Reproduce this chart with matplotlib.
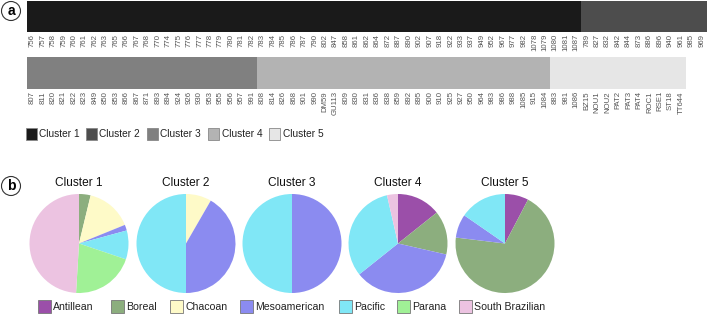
import matplotlib
matplotlib.use("Agg")
import matplotlib.pyplot as plt
from matplotlib.patches import Rectangle

plt.rcParams['font.family'] = ['Liberation Sans', 'DejaVu Sans']

# ---------------- data ----------------
row1_labels = ["756", "757", "758", "759", "760", "761", "762", "763", "765", "766", "767", "768",
               "770", "774", "775", "776", "777", "778", "779", "780", "781", "782", "783", "784",
               "785", "786", "787", "790", "802", "847", "858", "861", "862", "864", "872", "887",
               "890", "902", "907", "918", "922", "933", "937", "949", "952", "967", "977", "982",
               "1078", "1079", "1080", "1081", "1087",
               "789", "827", "832", "842", "844", "873", "886", "896", "940", "961", "985", "969"]
row1_clusters = [1] * 53 + [2] * 12

row2_labels = ["807", "811", "820", "821", "822", "823", "849", "850", "853", "866", "867", "871",
               "893", "894", "924", "926", "930", "953", "955", "956", "957", "991",
               "808", "814", "826", "868", "901", "990", "DM59", "GU113", "809", "830", "831",
               "836", "838", "859", "892", "895", "900", "910", "925", "927", "950", "964", "983",
               "986", "988", "1085", "915", "1084",
               "883", "981", "1086", "BZ15", "NOU1", "NOU2", "PAT2", "PAT3", "PAT4", "ROC1",
               "RSE1", "ST18", "TT644"]
row2_clusters = [3] * 22 + [4] * 28 + [5] * 13

cluster_names = ["Cluster 1", "Cluster 2", "Cluster 3", "Cluster 4", "Cluster 5"]
cluster_colors = ["#1a1a1a", "#4d4d4d", "#808080", "#b3b3b3", "#e6e6e6"]

regions = ["Antillean", "Boreal", "Chacoan", "Mesoamerican", "Pacific", "Parana", "South Brazilian"]
region_colors = ["#9b4fa9", "#8cae7e", "#fefac8", "#8b8bf0", "#80e7f6", "#a0f196", "#ecc3e1"]

# counts per cluster in region order
pie_counts = {
    "Cluster 1": [0, 2, 8, 1, 5, 11, 26],
    "Cluster 2": [0, 0, 1, 5, 6, 0, 0],
    "Cluster 3": [0, 0, 0, 11, 11, 0, 0],
    "Cluster 4": [4, 4, 0, 10, 9, 0, 1],
    "Cluster 5": [1, 9, 0, 1, 2, 0, 0],
}

# ---------------- figure ----------------
W, H = 709, 314
fig = plt.figure(figsize=(W / 100, H / 100), dpi=100)


def fr(x, y, w, h):
    """pixel box (top-left origin) -> figure fraction rect"""
    return [x / W, 1 - (y + h) / H, w / W, h / H]


unit = 680 / 65.0


def bar_row(labels, clusters, y0, h):
    ax = fig.add_axes(fr(27, y0, unit * len(labels), h))
    xs = list(range(len(labels)))
    ax.bar(xs, [1] * len(xs), width=1.0, bottom=0,
           color=[cluster_colors[c - 1] for c in clusters], linewidth=0)
    ax.set_xlim(-0.5, len(labels) - 0.5)
    ax.set_ylim(0, 1)
    ax.set_xticks(xs)
    ax.set_xticklabels(labels, rotation=90, fontsize=5.6, color="#555555")
    ax.tick_params(axis="x", length=0, pad=1.5)
    ax.set_yticks([])
    for s in ax.spines.values():
        s.set_visible(False)
    return ax


bar_row(row1_labels, row1_clusters, 1, 31)
bar_row(row2_labels, row2_clusters, 57, 32)

# cluster legend
leg1 = [(26, 39), (86, 99), (147, 160), (208, 222), (269, 283)]
for (sx, tx), name, col in zip(leg1, cluster_names, cluster_colors):
    fig.add_artist(Rectangle(((sx) / W, 1 - 140 / H), 11 / W, 12 / H,
                             transform=fig.transFigure, facecolor=col,
                             edgecolor="#888888", linewidth=0.6))
    fig.text(tx / W, 1 - 134 / H, name, fontsize=7.3, va="center", ha="left", color="#222222")

# pies
centers = [79, 186, 292, 398, 505]
cy = 243.5
r = 49.5
for cx, name in zip(centers, cluster_names):
    ax = fig.add_axes(fr(cx - r, cy - r, 2 * r, 2 * r))
    vals = pie_counts[name]
    ax.pie(vals, colors=region_colors, startangle=90, counterclock=False,
           radius=1, wedgeprops=dict(linewidth=0))
    ax.set_xlim(-1, 1)
    ax.set_ylim(-1, 1)
    ax.set_aspect("equal")
    ax.axis("off")
    ax.set_title(name, fontsize=8.6, pad=6.0, color="#111111")

# region legend
leg2 = [(38, 53), (111, 126), (170, 185), (240, 255), (339, 354), (397, 412), (459, 474)]
for (sx, tx), name, col in zip(leg2, regions, region_colors):
    fig.add_artist(Rectangle((sx / W, 1 - 313 / H), 13 / W, 13 / H,
                             transform=fig.transFigure, facecolor=col,
                             edgecolor="#777777", linewidth=0.6))
    fig.text(tx / W, 1 - 306.5 / H, name, fontsize=7.6, va="center", ha="left", color="#222222")

# panel labels
for lab, y in [("a", 11), ("b", 186)]:
    fig.text(11 / W, 1 - y / H, lab, fontsize=10, fontweight="bold", ha="center", va="center",
             bbox=dict(boxstyle="circle,pad=0.18", facecolor="white", edgecolor="#333333", linewidth=0.8))

fig.savefig("out.png", dpi=100)
